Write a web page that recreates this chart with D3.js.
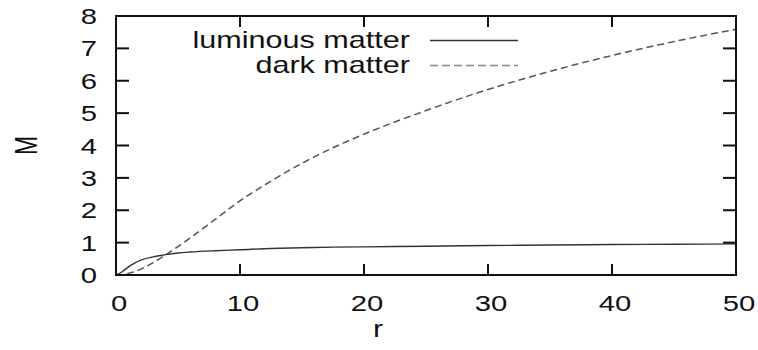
<!DOCTYPE html>
<html>
<head>
<meta charset="utf-8">
<script src="https://cdn.jsdelivr.net/npm/d3@7"></script>
<style>
  html, body { margin: 0; padding: 0; background: #fff; }
  svg { display: block; }
  text { font-family: "Liberation Sans", Arial, sans-serif; fill: #111; }
</style>
</head>
<body>
<svg id="chart" width="758" height="350"></svg>
<script>
// Radius values (x)
const radius = [0, 0.5, 1, 1.5, 2, 3, 4, 5, 6, 8, 10, 12.5, 15, 17.5, 20, 25, 30, 35, 40, 45, 50];
// Luminous matter mass
const luminous = [0, 0.1, 0.25, 0.37, 0.46, 0.56, 0.63, 0.68, 0.71, 0.75, 0.78, 0.82, 0.84, 0.86, 0.87, 0.89, 0.91, 0.925, 0.94, 0.95, 0.96];
// Dark matter mass
const dark = [0, 0.015, 0.05, 0.1, 0.18, 0.38, 0.62, 0.88, 1.15, 1.72, 2.29, 2.9, 3.45, 3.93, 4.35, 5.08, 5.73, 6.29, 6.78, 7.21, 7.59];
const xTicks = [0, 10, 20, 30, 40, 50];
const yTicks = [0, 1, 2, 3, 4, 5, 6, 7, 8];
const seriesNames = ["luminous matter", "dark matter"];
const xLabel = "r";
const yLabel = "M";

const svg = d3.select("#chart");
const L = 116, R = 736, T = 16, B = 275;
const SX = 1.33; // horizontal text stretch
const x = d3.scaleLinear().domain([0, 50]).range([L, R]);
const y = d3.scaleLinear().domain([0, 8]).range([B, T]);

const lumData = radius.map((r, i) => [r, luminous[i]]);
const darkData = radius.map((r, i) => [r, dark[i]]);
const line = d3.line().x(d => x(d[0])).y(d => y(d[1])).curve(d3.curveMonotoneX);

svg.append("defs").append("clipPath").attr("id", "clip")
  .append("rect").attr("x", L).attr("y", T).attr("width", R - L).attr("height", B - T);

const g = svg.append("g").attr("clip-path", "url(#clip)");
g.append("path").datum(darkData).attr("d", line)
  .attr("fill", "none").attr("stroke", "#555").attr("stroke-width", 1.5)
  .attr("stroke-dasharray", "7,4");
g.append("path").datum(lumData).attr("d", line)
  .attr("fill", "none").attr("stroke", "#333").attr("stroke-width", 1.4);

// ticks (inward, mirrored)
const tk = svg.append("g").attr("stroke", "#111").attr("stroke-width", 2);
xTicks.forEach(t => {
  tk.append("line").attr("x1", x(t)).attr("x2", x(t)).attr("y1", B).attr("y2", B - 11);
  tk.append("line").attr("x1", x(t)).attr("x2", x(t)).attr("y1", T).attr("y2", T + 11);
});
yTicks.forEach(t => {
  tk.append("line").attr("x1", L).attr("x2", L + 13).attr("y1", y(t)).attr("y2", y(t));
  tk.append("line").attr("x1", R).attr("x2", R - 13).attr("y1", y(t)).attr("y2", y(t));
});

// frame
svg.append("rect").attr("x", L).attr("y", T).attr("width", R - L).attr("height", B - T)
  .attr("fill", "none").attr("stroke", "#111").attr("stroke-width", 2);

function stext(px, py, str, anchor, size) {
  return svg.append("text")
    .attr("transform", `translate(${px},${py}) scale(${SX},1)`)
    .attr("text-anchor", anchor)
    .style("font-size", size + "px")
    .text(str);
}

xTicks.forEach(t => stext(x(t) + 3, 311, t, "middle", 22));
yTicks.forEach(t => stext(97, y(t) + 8, t, "end", 22));

stext(378, 337, xLabel, "middle", 23);
svg.append("text")
  .attr("transform", `translate(37,${(T + B) / 2}) rotate(-90) scale(1,${SX})`)
  .attr("text-anchor", "middle")
  .style("font-size", "23px")
  .text(yLabel);

// legend
const legY = [40.5, 65.5];
stext(410, 48, seriesNames[0], "end", 23);
stext(410, 73, seriesNames[1], "end", 23);
svg.append("line").attr("x1", 430).attr("x2", 518).attr("y1", legY[0]).attr("y2", legY[0])
  .attr("stroke", "#333").attr("stroke-width", 1.4);
svg.append("line").attr("x1", 430).attr("x2", 518).attr("y1", legY[1]).attr("y2", legY[1])
  .attr("stroke", "#888").attr("stroke-width", 1.4).attr("stroke-dasharray", "8,4");
</script>
</body>
</html>
